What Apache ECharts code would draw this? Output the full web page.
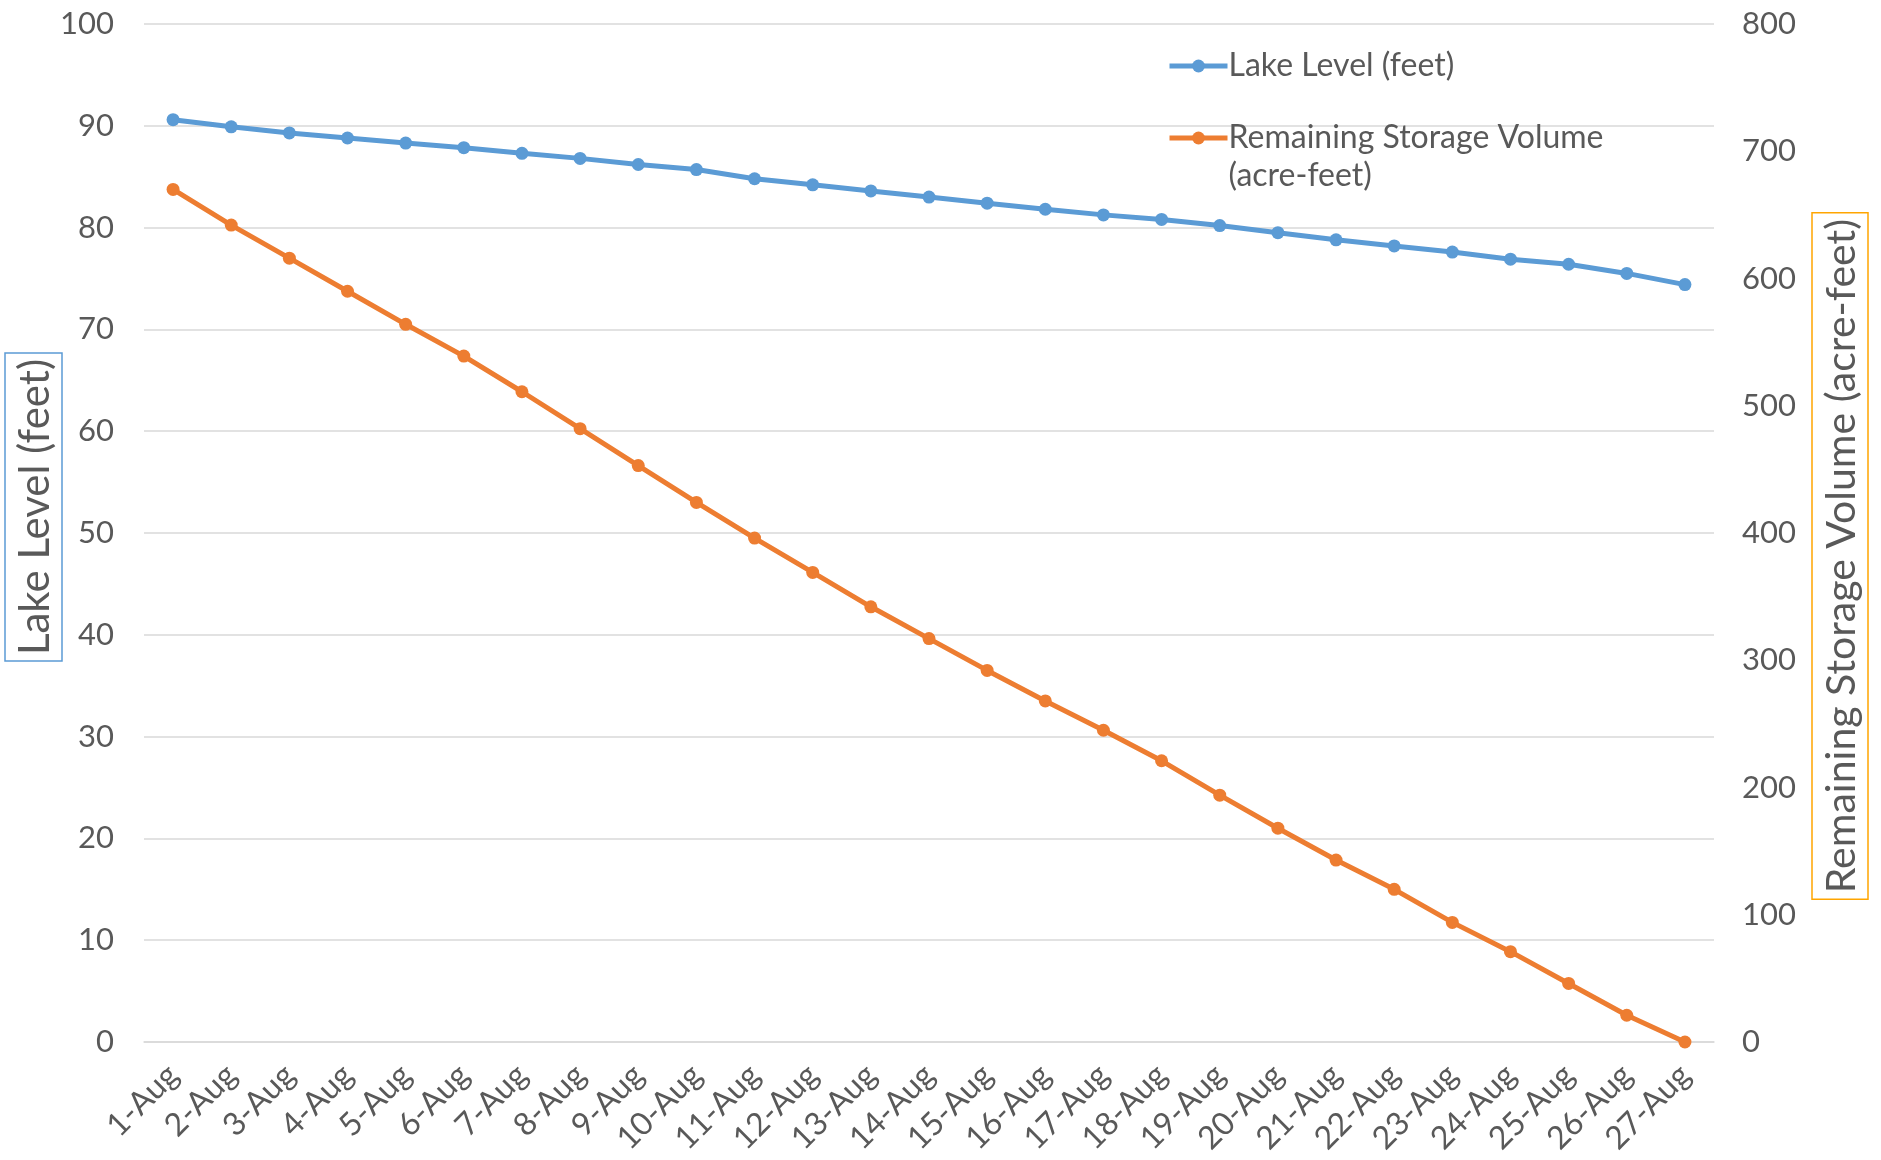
<!DOCTYPE html>
<html><head><meta charset="utf-8">
<script src="https://cdn.jsdelivr.net/npm/echarts@6/dist/echarts.min.js"></script>
<style>html,body{margin:0;padding:0;background:#fff}#c{width:1881px;height:1160px}</style>
</head><body><div id="c"></div>
<script>
const categories = ['1-Aug','2-Aug','3-Aug','4-Aug','5-Aug','6-Aug','7-Aug','8-Aug','9-Aug','10-Aug','11-Aug','12-Aug','13-Aug','14-Aug','15-Aug','16-Aug','17-Aug','18-Aug','19-Aug','20-Aug','21-Aug','22-Aug','23-Aug','24-Aug','25-Aug','26-Aug','27-Aug'];
const lakeLevel = [90.6,89.9,89.3,88.8,88.3,87.85,87.3,86.8,86.2,85.7,84.8,84.2,83.6,83.0,82.4,81.8,81.25,80.8,80.2,79.5,78.8,78.2,77.6,76.9,76.4,75.5,74.4];
const storage = [670,642,616,590,564,539,511,482,453,424,396,369,342,317,292,268,245,221,194,168,143,120,94,71,46,21,0];
const leftTicks = {min:0,max:100,interval:10};
const rightTicks = {min:0,max:800,interval:100};
const seriesNames = ['Lake Level (feet)','Remaining Storage Volume (acre-feet)'];

const FONT = 'Lato';
const TXT = '#595959';
const BLUE = '#5B9BD5', ORANGE = '#ED7D31';
const chart = echarts.init(document.getElementById('c'));
chart.setOption({
  animation:false,
  textStyle:{fontFamily:FONT,color:TXT},
  grid:{left:144,right:167,top:24,bottom:118,containLabel:false,outerBoundsMode:'none'},
  legend:[
    {data:[seriesNames[0]],left:1162,top:42,itemWidth:58,itemHeight:16,lineStyle:{width:5},
     textStyle:{fontFamily:FONT,fontSize:32,color:TXT,lineHeight:38,padding:[0,0,0,-4]}},
    {data:[seriesNames[1]],left:1162,top:76,itemWidth:58,itemHeight:16,lineStyle:{width:5},
     formatter:function(){return '\nRemaining Storage Volume\n(acre-feet)';},
     textStyle:{fontFamily:FONT,fontSize:32,color:TXT,lineHeight:38,padding:[0,0,0,-4]}}
  ],
  xAxis:{type:'category',data:categories,boundaryGap:true,
    axisLine:{show:true,lineStyle:{color:'#D9D9D9',width:1.5}},axisTick:{show:false},
    axisLabel:{rotate:45,interval:0,fontFamily:FONT,fontSize:32,color:TXT,margin:28}},
  yAxis:[
    {type:'value',min:leftTicks.min,max:leftTicks.max,interval:leftTicks.interval,position:'left',
     name:'{s|}{t|Lake Level (feet)}',nameLocation:'middle',nameGap:82,nameRotate:90,nameMoveOverlap:false,
     nameTextStyle:{rich:{
       t:{fontFamily:FONT,fontSize:42,color:TXT,borderColor:BLUE,borderWidth:1.5,padding:[9,6,6,6]},
       s:{width:52}}},
     axisLine:{show:false},axisTick:{show:false},
     axisLabel:{fontFamily:FONT,fontSize:31,color:TXT,margin:30},
     splitLine:{lineStyle:{color:'#D9D9D9',width:1.5}}},
    {type:'value',min:rightTicks.min,max:rightTicks.max,interval:rightTicks.interval,position:'right',
     name:'{t|Remaining Storage Volume (acre-feet)}{s|}',nameLocation:'middle',nameGap:98,nameRotate:90,nameMoveOverlap:false,
     nameTextStyle:{rich:{
       t:{fontFamily:FONT,fontSize:41,color:TXT,borderColor:'#FFA500',borderWidth:1.5,padding:[9,6,6,6]},
       s:{width:46}}},
     axisLine:{show:false},axisTick:{show:false},
     axisLabel:{fontFamily:FONT,fontSize:31,color:TXT,margin:28},
     splitLine:{show:false}}
  ],
  series:[
    {name:seriesNames[0],type:'line',yAxisIndex:0,data:lakeLevel,symbol:'circle',symbolSize:13,
     lineStyle:{color:BLUE,width:5},itemStyle:{color:BLUE}},
    {name:seriesNames[1],type:'line',yAxisIndex:1,data:storage,symbol:'circle',symbolSize:13,
     lineStyle:{color:ORANGE,width:5},itemStyle:{color:ORANGE}}
  ]
});
</script></body></html>
